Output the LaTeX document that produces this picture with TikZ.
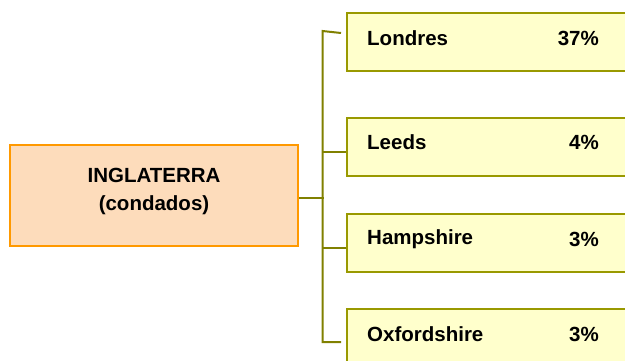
\documentclass[tikz,border=0pt]{standalone}
\usepackage{fontspec}
\setmainfont{Liberation Sans}
\definecolor{peach}{HTML}{FDDCBB}
\definecolor{orangeb}{HTML}{FF9900}
\definecolor{lyellow}{HTML}{FFFFCC}
\definecolor{oliveb}{HTML}{999900}
\definecolor{olivel}{HTML}{808000}
\begin{document}
\begin{tikzpicture}[x=1pt,y=-1pt,
  mainbox/.style={draw=orangeb,fill=peach,line width=2pt,minimum width=288pt,minimum height=101pt,inner sep=0pt},
  maintext/.style={align=center,inner sep=0pt,font=\bfseries\fontsize{20.5}{28}\selectfont},
  citybox/.style={draw=oliveb,fill=lyellow,line width=2pt,minimum width=300pt,minimum height=58pt,inner sep=0pt,anchor=north west},
  lbl/.style={font=\bfseries\fontsize{20.5}{24}\selectfont,inner sep=0pt},
  conn/.style={draw=olivel,line width=2pt}]
\useasboundingbox (0,0) rectangle (625,360);
\clip (0,0) rectangle (625,360);
\fill[white] (0,0) rectangle (625,360);
\node[mainbox] (main) at (154,195.5) {};
\node[maintext] (mtxt) at (154,191.5) {INGLATERRA\\(condados)};
\node[citybox] (lon) at (346,12) {};
\node[citybox] (lee) at (346,116.5) {};
\node[citybox] (ham) at (346,213) {};
\node[citybox] (oxf) at (346,308) {};
\foreach \b/\n/\p in {lon/Londres/37\%,lee/Leeds/4\%,ham/Hampshire/3\%,oxf/Oxfordshire/3\%}{
  \node[lbl,anchor=west] (\b n) at ([xshift=21pt,yshift=4pt]\b.west) {\n};
  \node[lbl,anchor=east] (\b p) at ([yshift=4pt]\b.west -| 599,0) {\p};
}
\coordinate (topend) at (341,33);
\coordinate (botend) at (341,342);
\coordinate (ttop) at (322.5,31);
\coordinate (tbot) at (322.5,342);
\draw[conn] (topend) -- (ttop) -- (tbot) -- (botend);
\draw[conn] ([yshift=-2.5pt]main.east) -- ++(24.5,0);
\draw[conn] ([yshift=-5pt]lee.west) -- ([yshift=-5pt]lee.west -| ttop);
\draw[conn] ([yshift=-4.5pt]ham.west) -- ([yshift=-4.5pt]ham.west -| ttop);
\end{tikzpicture}
\end{document}
